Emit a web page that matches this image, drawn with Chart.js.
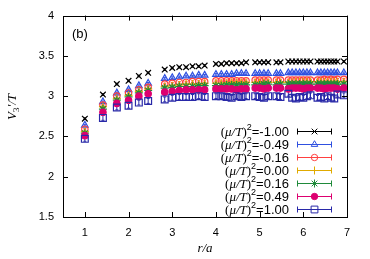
<!DOCTYPE html>
<html>
<head>
<meta charset="utf-8">
<script src="https://cdn.jsdelivr.net/npm/chart.js@4/dist/chart.umd.min.js"></script>
<style>
  html, body { margin: 0; padding: 0; background: #fff; }
  #wrap { width: 370px; height: 259px; }
</style>
</head>
<body>
<div id="wrap"><canvas id="chart" width="370" height="259"></canvas></div>
<script>
// r/a positions (lattice distances)
const rValues = [1, 1.414, 1.732, 2, 2.236, 2.449, 2.828, 3, 3.162, 3.317, 3.464, 3.606, 3.742,
  4, 4.123, 4.243, 4.359, 4.472, 4.583, 4.690, 4.899, 5, 5.099, 5.196, 5.385, 5.477,
  5.657, 5.745, 5.831, 5.916, 6, 6.083, 6.164, 6.325, 6.403, 6.481, 6.557, 6.633, 6.708, 6.782, 6.928];

const muLabels = ['-1.00', '-0.49', '-0.16', '0.00', '0.16', '0.49', '1.00'];

const vMinus100 = [2.72, 3.02, 3.15, 3.19, 3.25, 3.29, 3.33, 3.35, 3.36, 3.36, 3.37, 3.37, 3.38,
  3.40, 3.40, 3.41, 3.41, 3.41, 3.41, 3.42, 3.42, 3.42, 3.42, 3.42, 3.42, 3.42,
  3.43, 3.43, 3.43, 3.43, 3.43, 3.43, 3.43, 3.43, 3.43, 3.43, 3.43, 3.43, 3.43, 3.43, 3.43];
const vMinus049 = [2.64, 2.93, 3.04, 3.08, 3.13, 3.16, 3.22, 3.23, 3.24, 3.25, 3.25, 3.26, 3.26,
  3.27, 3.27, 3.27, 3.27, 3.28, 3.28, 3.28, 3.28, 3.28, 3.28, 3.28, 3.28, 3.28,
  3.29, 3.29, 3.29, 3.29, 3.29, 3.29, 3.29, 3.29, 3.29, 3.29, 3.29, 3.29, 3.29, 3.29, 3.29];
const vMinus016 = [2.59, 2.89, 3.00, 3.04, 3.08, 3.11, 3.15, 3.16, 3.17, 3.17, 3.18, 3.18, 3.18,
  3.19, 3.19, 3.19, 3.19, 3.19, 3.19, 3.19, 3.20, 3.20, 3.20, 3.20, 3.20, 3.20,
  3.20, 3.20, 3.20, 3.20, 3.20, 3.20, 3.20, 3.20, 3.20, 3.21, 3.20, 3.21, 3.20, 3.21, 3.21];
const vZero = [2.56, 2.87, 2.97, 3.01, 3.06, 3.09, 3.12, 3.13, 3.14, 3.15, 3.15, 3.15, 3.16,
  3.16, 3.16, 3.16, 3.17, 3.17, 3.17, 3.17, 3.17, 3.17, 3.17, 3.17, 3.17, 3.17,
  3.17, 3.17, 3.18, 3.18, 3.18, 3.18, 3.18, 3.18, 3.18, 3.18, 3.18, 3.18, 3.18, 3.18, 3.18];
const vPlus016 = [2.54, 2.84, 2.95, 2.99, 3.04, 3.07, 3.10, 3.11, 3.12, 3.12, 3.12, 3.13, 3.13,
  3.13, 3.13, 3.14, 3.14, 3.14, 3.14, 3.14, 3.14, 3.14, 3.15, 3.15, 3.14, 3.15,
  3.15, 3.15, 3.15, 3.15, 3.15, 3.15, 3.15, 3.15, 3.15, 3.15, 3.15, 3.15, 3.15, 3.15, 3.15];
const vPlus049 = [2.51, 2.80, 2.91, 2.95, 3.00, 3.03, 3.05, 3.06, 3.07, 3.08, 3.08, 3.08, 3.08,
  3.09, 3.09, 3.09, 3.09, 3.08, 3.09, 3.09, 3.10, 3.10, 3.09, 3.10, 3.10, 3.10,
  3.09, 3.10, 3.10, 3.10, 3.09, 3.10, 3.10, 3.10, 3.10, 3.09, 3.10, 3.10, 3.10, 3.09, 3.10];
const vPlus100 = [2.47, 2.73, 2.86, 2.88, 2.92, 2.94, 2.96, 2.98, 2.99, 2.99, 2.99, 3.00, 2.99,
  3.00, 3.00, 2.99, 2.98, 3.00, 2.99, 3.00, 3.00, 2.99, 2.98, 3.00, 3.00, 2.99,
  3.03, 2.98, 2.97, 2.99, 2.98, 3.00, 3.01, 2.98, 2.99, 2.97, 3.00, 2.98, 2.97, 3.02, 3.01];

// one error size per series
const seriesErr = [0.01, 0.01, 0.01, 0.01, 0.012, 0.015, 0.03];

const xTicks = [1, 2, 3, 4, 5, 6, 7];
const yTicks = [1.5, 2, 2.5, 3, 3.5, 4];

const allSeries = [vMinus100, vMinus049, vMinus016, vZero, vPlus016, vPlus049, vPlus100];
const colors = ['#000000', '#2f50e0', '#ff4040', '#e0aa00', '#1f8a3a', '#dd0070', '#2828a8'];
const styles = ['crossRot', 'triangle', 'circle', 'cross', 'star', 'circle', 'rect'];
const fills = [false, false, false, false, false, true, false];
const radii = [4, 3.8, 3.2, 4, 4, 3.2, 4.8];

const datasets = allSeries.map((vals, i) => ({
  label: '(μ/T)²=' + muLabels[i],
  data: rValues.map((r, k) => ({ x: r, y: vals[k] })),
  err: seriesErr[i],
  showLine: false,
  pointStyle: styles[i],
  pointRadius: radii[i],
  pointBorderWidth: 1.2,
  borderColor: colors[i],
  backgroundColor: fills[i] ? colors[i] : 'rgba(0,0,0,0)',
  order: 6 - i
}));

// --- error bars + frame + texts ---
const extras = {
  id: 'extras',
  beforeDatasetsDraw(chart) {
    const ctx = chart.ctx;
    const ys = chart.scales.y;
    ctx.save();
    ctx.lineWidth = 1;
    chart.data.datasets.forEach((ds, i) => {
      const meta = chart.getDatasetMeta(i);
      ctx.strokeStyle = ds.borderColor;
      meta.data.forEach((pt, k) => {
        const v = ds.data[k].y;
        const y1 = ys.getPixelForValue(v - ds.err);
        const y2 = ys.getPixelForValue(v + ds.err);
        ctx.beginPath();
        ctx.moveTo(pt.x, y1); ctx.lineTo(pt.x, y2);
        ctx.moveTo(pt.x - 1.5, y1); ctx.lineTo(pt.x + 1.5, y1);
        ctx.moveTo(pt.x - 1.5, y2); ctx.lineTo(pt.x + 1.5, y2);
        ctx.stroke();
      });
    });
    ctx.restore();
  },
  afterDraw(chart) {
    const ctx = chart.ctx;
    const a = chart.chartArea;
    const xs = chart.scales.x, ys = chart.scales.y;
    ctx.save();
    // frame
    ctx.strokeStyle = '#000';
    ctx.lineWidth = 1;
    ctx.strokeRect(Math.round(a.left) + 0.5, Math.round(a.top) + 0.5,
      Math.round(a.right - a.left), Math.round(a.bottom - a.top));
    // inward ticks
    ctx.beginPath();
    xTicks.forEach(t => {
      const px = Math.round(xs.getPixelForValue(t)) + 0.5;
      ctx.moveTo(px, a.bottom); ctx.lineTo(px, a.bottom - 5);
      ctx.moveTo(px, a.top); ctx.lineTo(px, a.top + 5);
    });
    yTicks.forEach(t => {
      const py = Math.round(ys.getPixelForValue(t)) + 0.5;
      ctx.moveTo(a.left, py); ctx.lineTo(a.left + 5, py);
      ctx.moveTo(a.right, py); ctx.lineTo(a.right - 5, py);
    });
    ctx.stroke();

    // panel label
    ctx.fillStyle = '#000';
    ctx.font = '13px "Liberation Sans", Arial, sans-serif';
    ctx.textBaseline = 'alphabetic';
    ctx.textAlign = 'left';
    ctx.fillText('(b)', a.left + 9, a.top + 22);

    // axis titles
    ctx.font = 'italic 13px "Liberation Serif", "Times New Roman", serif';
    ctx.textAlign = 'center';
    ctx.fillText('r/a', (a.left + a.right) / 2, 252);

    ctx.save();
    ctx.translate(16, 107);
    ctx.rotate(-Math.PI / 2);
    ctx.textAlign = 'left';
    const serifI = 'italic 13px "Liberation Serif", "Times New Roman", serif';
    const serifS = '9px "Liberation Serif", "Times New Roman", serif';
    ctx.font = serifI;
    const wV = ctx.measureText('V').width;
    ctx.font = serifS;
    const w3 = ctx.measureText('3').width;
    ctx.font = serifI;
    const wR = ctx.measureText("'/T").width;
    let x0 = -(wV + w3 + wR) / 2;
    ctx.fillText('V', x0, 0);
    ctx.font = serifS;
    ctx.fillText('3', x0 + wV, 3);
    ctx.font = serifI;
    ctx.fillText("'/T", x0 + wV + w3, 0);
    ctx.restore();

    // legend
    const rightText = 289;
    chart.data.datasets.forEach((ds, i) => {
      const yc = 131 + i * 13;
      const base = yc + 4.5;
      const sans = '13px "Liberation Sans", Arial, sans-serif';
      const sup = '9px "Liberation Sans", Arial, sans-serif';
      const serif = '13px "Liberation Serif", "Times New Roman", serif';
      const serifIt = 'italic 13px "Liberation Serif", "Times New Roman", serif';
      const parts = [
        ['(', serif, 0], ['μ/T', serifIt, 0], [')', serif, 0],
        ['2', sup, -6], ['=' + muLabels[i], sans, 0]
      ];
      let total = 0;
      parts.forEach(p => { ctx.font = p[1]; p.push(ctx.measureText(p[0]).width); total += p[3]; });
      let x = rightText - total;
      ctx.fillStyle = '#000';
      ctx.textAlign = 'left';
      parts.forEach(p => { ctx.font = p[1]; ctx.fillText(p[0], x, base + p[2]); x += p[3]; });

      // sample line with error caps
      const yl = Math.round(yc) + 0.5;
      ctx.strokeStyle = ds.borderColor;
      ctx.lineWidth = 1;
      ctx.beginPath();
      ctx.moveTo(297, yl); ctx.lineTo(332, yl);
      ctx.moveTo(297.5, yl - 3); ctx.lineTo(297.5, yl + 3);
      ctx.moveTo(331.5, yl - 3); ctx.lineTo(331.5, yl + 3);
      ctx.stroke();
      if (Chart.helpers && Chart.helpers.drawPoint) {
        ctx.fillStyle = ds.backgroundColor;
        Chart.helpers.drawPoint(ctx, {
          pointStyle: ds.pointStyle, radius: ds.pointRadius, rotation: 0, borderWidth: 1
        }, 314.5, yl);
      }
    });
    ctx.restore();
  }
};

new Chart(document.getElementById('chart'), {
  type: 'scatter',
  data: { datasets },
  options: {
    responsive: false,
    animation: false,
    layout: { padding: { top: 15, right: 23, left: 0, bottom: 0 } },
    plugins: { legend: { display: false }, tooltip: { enabled: false } },
    scales: {
      x: {
        type: 'linear', min: 0.5, max: 7,
        afterFit: s => { s.height = 42; },
        afterBuildTicks: s => { s.ticks = xTicks.map(v => ({ value: v })); },
        grid: { display: false, drawTicks: false },
        border: { display: false },
        ticks: { color: '#000', padding: 9, callback: v => String(v),
          font: { family: '"Liberation Sans", Arial, sans-serif', size: 11 } }
      },
      y: {
        type: 'linear', min: 1.5, max: 4,
        afterFit: s => { s.width = 63; },
        afterBuildTicks: s => { s.ticks = yTicks.map(v => ({ value: v })); },
        grid: { display: false, drawTicks: false },
        border: { display: false },
        ticks: { color: '#000', padding: 9, callback: v => String(v),
          font: { family: '"Liberation Sans", Arial, sans-serif', size: 11 } }
      }
    }
  },
  plugins: [extras]
});
</script>
</body>
</html>
